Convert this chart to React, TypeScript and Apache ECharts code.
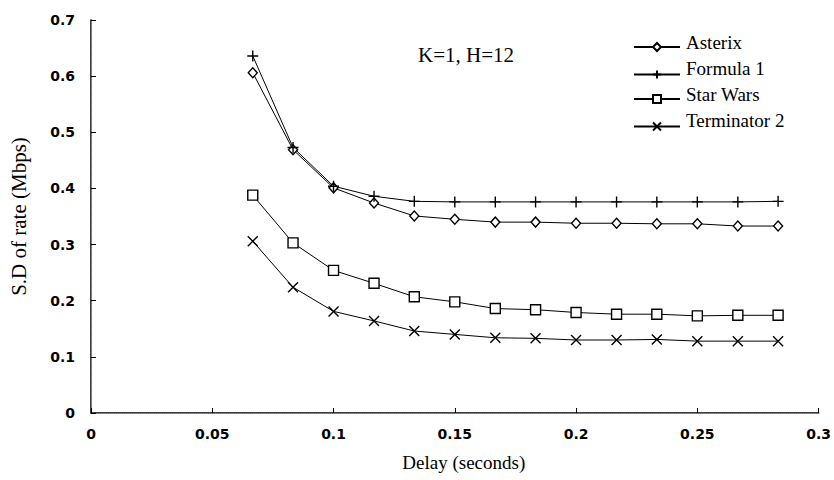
import React, { useEffect, useRef } from "react";
import * as echarts from "echarts";

const delays = [0.0667, 0.0833, 0.1, 0.1167, 0.1333, 0.15, 0.1667, 0.1833, 0.2, 0.2167, 0.2333, 0.25, 0.2667, 0.2833];
const asterix = [0.606, 0.469, 0.401, 0.374, 0.351, 0.345, 0.340, 0.340, 0.338, 0.338, 0.337, 0.337, 0.333, 0.333];
const formula1 = [0.636, 0.473, 0.404, 0.386, 0.377, 0.376, 0.376, 0.376, 0.376, 0.376, 0.376, 0.376, 0.376, 0.377];
const starWars = [0.388, 0.303, 0.254, 0.231, 0.207, 0.198, 0.186, 0.184, 0.179, 0.176, 0.176, 0.173, 0.174, 0.174];
const terminator2 = [0.306, 0.224, 0.181, 0.164, 0.146, 0.140, 0.134, 0.133, 0.130, 0.130, 0.131, 0.128, 0.128, 0.128];
const seriesNames = ["Asterix", "Formula 1", "Star Wars", "Terminator 2"];
const annotation = "K=1, H=12";

const FONT = "Liberation Serif";
const TICKFONT = "DejaVu Sans";
const PLUS = "path://M5,0L5,10M0,5L10,5";
const CROSS = "path://M0,0L10,10M10,0L0,10";
const LEGEND_X = 633;
const LEGEND_Y0 = 47;
const LEGEND_STEP = 26;

export default function App() {
  const ref = useRef<HTMLDivElement>(null);
  useEffect(() => {
    if (!ref.current) return;
    const chart = echarts.init(ref.current, null, { renderer: "svg" });
    const mk = (name: string, vals: number[], symbol: string, size: number | number[], fill: string) => ({
      name,
      type: "line",
      data: delays.map((d, i) => [d, vals[i]]),
      symbol,
      symbolSize: size,
      showAllSymbol: true,
      lineStyle: { color: "#000", width: 1 },
      itemStyle: { color: fill, borderColor: "#000", borderWidth: 1.4 },
      emphasis: { disabled: true },
    });
    chart.setOption({
      animation: false,
      backgroundColor: "#fff",
      grid: { left: 88, right: 14, top: 20, bottom: 67, containLabel: false },
      legend: seriesNames.map((n, i) => ({
        orient: "horizontal",
        left: LEGEND_X,
        top: LEGEND_Y0 + i * LEGEND_STEP - 5,
        itemWidth: 46,
        itemHeight: 10,
        padding: 0,
        formatter: () => "",
        textStyle: { fontSize: 10 },
        data: [n],
      })),
      graphic: [
        {
          type: "text",
          left: 418,
          top: 44,
          style: { text: annotation, fontFamily: FONT, fontSize: 21, fill: "#000" },
        },
        ...seriesNames.map((n, i) => ({
          type: "text",
          x: 686,
          y: LEGEND_Y0 + i * LEGEND_STEP - 5,
          style: { text: n, fontFamily: FONT, fontSize: 19, fill: "#000", verticalAlign: "middle" },
        })),
      ],
      xAxis: [
        {
          type: "value",
          min: 0,
          max: 0.3,
          interval: 0.05,
          name: "Delay (seconds)",
          nameLocation: "middle",
          nameGap: 40,
          nameTextStyle: { fontFamily: FONT, fontSize: 19, color: "#000", padding: [0, 0, 0, 18] },
          axisLine: { lineStyle: { color: "#000", width: 1.5 } },
          axisTick: { inside: true, length: 5, lineStyle: { color: "#000" } },
          axisLabel: { fontFamily: TICKFONT, fontSize: 14, fontWeight: "bold", color: "#000", margin: 14 },
          splitLine: { show: false },
        },
        {
          type: "value",
          position: "top",
          min: 0,
          max: 0.3,
          axisLine: { show: true, lineStyle: { color: "#888", type: "dotted", width: 1 } },
          axisTick: { show: false },
          axisLabel: { show: false },
          splitLine: { show: false },
        },
      ],
      yAxis: [
        {
          type: "value",
          min: 0,
          max: 0.7,
          interval: 0.1,
          name: "S.D of rate (Mbps)",
          nameLocation: "middle",
          nameGap: 62,
          nameTextStyle: { fontFamily: FONT, fontSize: 21, color: "#000" },
          axisLine: { show: true, lineStyle: { color: "#000", width: 1.5 } },
          axisTick: { show: true, inside: true, length: 5, lineStyle: { color: "#000" } },
          axisLabel: { fontFamily: TICKFONT, fontSize: 14, fontWeight: "bold", color: "#000", margin: 16 },
          splitLine: { show: false },
        },
        {
          type: "value",
          position: "right",
          min: 0,
          max: 0.7,
          axisLine: { show: true, lineStyle: { color: "#888", type: "dotted", width: 1 } },
          axisTick: { show: false },
          axisLabel: { show: false },
          splitLine: { show: false },
        },
      ],
      series: [
        mk(seriesNames[0], asterix, "diamond", [9, 10], "#fff"),
        mk(seriesNames[1], formula1, PLUS, 11, "none"),
        mk(seriesNames[2], starWars, "rect", 10, "#fff"),
        mk(seriesNames[3], terminator2, CROSS, 10, "none"),
      ],
    });
    return () => chart.dispose();
  }, []);
  return <div ref={ref} style={{ position: "fixed", left: 0, top: 0, width: 834, height: 480 }} />;
}
